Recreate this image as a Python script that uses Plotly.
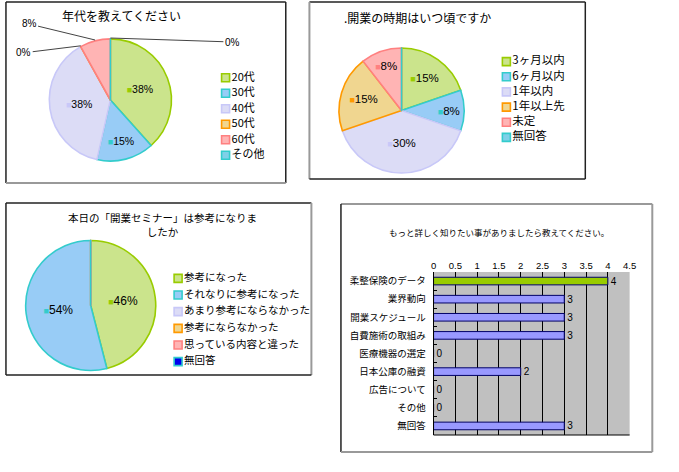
import math
import plotly.graph_objects as go

W, H = 679, 472
JP = "Noto Sans CJK JP, sans-serif"
NUM = "Liberation Sans, Noto Sans CJK JP, sans-serif"

# ---------------- data ----------------
age_labels = ["20代", "30代", "40代", "50代", "60代", "その他"]
age_values = [38, 15, 38, 0, 8, 0]

timing_labels = ["3ヶ月以内", "6ヶ月以内", "1年以内", "1年以上先", "未定", "無回答"]
timing_values = [15, 8, 30, 15, 8, 0]

seminar_labels = ["参考になった", "それなりに参考になった", "あまり参考にならなかった",
                  "参考にならなかった", "思っている内容と違った", "無回答"]
seminar_values = [46, 54, 0, 0, 0, 0]

topic_labels = ["柔整保険のデータ", "業界動向", "開業スケジュール", "自費施術の取組み",
                "医療機器の選定", "日本公庫の融資", "広告について", "その他", "無回答"]
topic_values = [4, 3, 3, 3, 0, 2, 0, 0, 3]
x_tick_values = [0, 0.5, 1, 1.5, 2, 2.5, 3, 3.5, 4, 4.5]

# ---------------- styles ----------------
GREEN_F, GREEN_B = "#cbe48c", "#99cc00"
BLUE_F, BLUE_B = "#98ccf6", "#33cccc"
LAV_F, LAV_B = "#dcdcf6", "#c8c8f8"
ORG_F, ORG_B = "#f0d690", "#ff9900"
PINK_F, PINK_B = "#ffb4b4", "#ff8080"
CYAN_F, CYAN_B = "#7fd0e8", "#33cccc"

age_fills = [GREEN_F, BLUE_F, LAV_F, ORG_F, PINK_F, CYAN_F]
age_borders = [GREEN_B, BLUE_B, LAV_B, ORG_B, PINK_B, CYAN_B]
timing_fills = age_fills
timing_borders = age_borders
seminar_fills = [GREEN_F, BLUE_F, LAV_F, ORG_F, PINK_F, "#0000ee"]
seminar_borders = [GREEN_B, BLUE_B, LAV_B, ORG_B, PINK_B, CYAN_B]


def px(x):
    return x / W


def py(y):
    return 1 - y / H


def pie_text(values, borders):
    return [f"<span style='color:{b};font-size:9px'>■</span>{v}%" for v, b in zip(values, borders)]


def make_pie(labels, values, fills, borders, box, positions, fsize):
    x0, y0, x1, y1 = box
    return go.Pie(
        labels=labels, values=values, sort=False, direction="clockwise", rotation=0,
        marker=dict(colors=fills, line=dict(color=borders, width=1.6)),
        text=pie_text(values, borders), textinfo="text", textposition=positions,
        insidetextorientation="horizontal",
        textfont=dict(family=NUM, size=fsize, color="black"),
        domain=dict(x=[px(x0), px(x1)], y=[py(y1), py(y0)]),
        showlegend=False, hoverinfo="skip",
    )


def legend_trace(labels, fills, borders, xa, ya, fsize):
    return go.Scatter(
        x=[0] * len(labels), y=list(range(len(labels))), mode="markers+text",
        text=labels, textposition="middle right",
        marker=dict(symbol="square", size=8, color=fills, line=dict(color=borders, width=1.6)),
        textfont=dict(family=JP, size=fsize, color="black"),
        xaxis=xa, yaxis=ya, showlegend=False, hoverinfo="skip", cliponaxis=False,
    )


fig = go.Figure()

# pie 1
pie1_box = (47, 38, 171, 162)
pos1 = ["inside" if v > 0 else "none" for v in age_values]
pos1[4] = "none"
fig.add_trace(make_pie(age_labels, age_values, age_fills, age_borders, pie1_box, pos1, 10.5))

# pie 2
pie2_box = (341, 47, 468, 174)
pos2 = ["inside" if v > 0 else "none" for v in timing_values]
fig.add_trace(make_pie(timing_labels, timing_values, timing_fills, timing_borders, pie2_box, pos2, 11.5))

# pie 3
pie3_box = (23, 240, 155, 371)
pos3 = ["inside" if v > 0 else "none" for v in seminar_values]
fig.add_trace(make_pie(seminar_labels, seminar_values, seminar_fills, seminar_borders, pie3_box, pos3, 12))

# legends as marker lists
fig.add_trace(legend_trace(age_labels, age_fills, age_borders, "x2", "y2", 11))
fig.add_trace(legend_trace(timing_labels, timing_fills, timing_borders, "x3", "y3", 11.5))
fig.add_trace(legend_trace(seminar_labels, seminar_fills, seminar_borders, "x4", "y4", 10.5))

# bar chart
bar_colors = ["#99cc00"] + ["#9999ff"] * (len(topic_values) - 1)
fig.add_trace(go.Bar(
    x=topic_values, y=topic_labels, orientation="h", width=0.42,
    marker=dict(color=bar_colors, line=dict(color="#000066", width=1)),
    text=[str(v) for v in topic_values], textposition="outside", constraintext="none",
    textfont=dict(family=NUM, size=10, color="black"), cliponaxis=False,
    xaxis="x", yaxis="y", showlegend=False, hoverinfo="skip",
))

hidden = dict(visible=False, fixedrange=True)
fig.update_layout(
    width=W, height=H, margin=dict(l=0, r=0, t=0, b=0),
    paper_bgcolor="white", plot_bgcolor="rgba(0,0,0,0)",
    font=dict(family=JP, color="black"),
    showlegend=False,
    xaxis=dict(domain=[px(437), px(636)], range=[0, 4.5], side="top", tickvals=x_tick_values,
               showgrid=True, gridcolor="black", gridwidth=1, zeroline=True, zerolinecolor="black",
               zerolinewidth=1, ticks="", tickfont=dict(family=NUM, size=9.5, color="black"),
               fixedrange=True, anchor="y"),
    yaxis=dict(domain=[py(435), py(272)], type="category", autorange="reversed",
               showline=True, linecolor="black", ticks="inside", tickson="boundaries",
               ticklen=3, tickcolor="black", tickfont=dict(family=JP, size=9.5, color="black"),
               ticklabelstandoff=5, showgrid=False, fixedrange=True, anchor="x"),
    xaxis2=dict(domain=[px(220), px(285)], range=[-0.1, 1], anchor="y2", **hidden),
    yaxis2=dict(domain=[py(163), py(70)], range=[5.5, -0.5], anchor="x2", **hidden),
    xaxis3=dict(domain=[px(503), px(590)], range=[-0.1, 1], anchor="y3", **hidden),
    yaxis3=dict(domain=[py(145), py(54)], range=[5.5, -0.5], anchor="x3", **hidden),
    xaxis4=dict(domain=[px(171), px(312)], range=[-0.05, 1], anchor="y4", **hidden),
    yaxis4=dict(domain=[py(370), py(270)], range=[5.5, -0.5], anchor="x4", **hidden),
)

shapes = []
# gray plot background for bar chart
shapes.append(dict(type="rect", xref="x domain", yref="y domain", x0=0, x1=1, y0=0, y1=1,
                   fillcolor="#c0c0c0", line=dict(width=0), layer="below"))
shapes.append(dict(type="line", xref="x domain", yref="y domain", x0=0, x1=1, y0=0, y1=0,
                   line=dict(color="black", width=1)))


def seg(x0, y0, x1, y1, color, width=1.5):
    shapes.append(dict(type="line", xref="paper", yref="paper", x0=px(x0), y0=py(y0),
                       x1=px(x1), y1=py(y1), line=dict(color=color, width=width)))


DARK, GRAY = "#222222", "#999999"
# panel 1
seg(3, 2, 287, 2, DARK); seg(3, 2, 3, 183, DARK); seg(287, 2, 287, 183, DARK); seg(3, 183, 287, 183, GRAY, 2)
# panel 2
seg(311, 2, 591, 2, DARK); seg(311, 2, 311, 179, GRAY, 2); seg(591, 2, 591, 179, DARK); seg(311, 179, 591, 179, DARK)
# panel 3
seg(3, 203, 313, 203, DARK); seg(3, 203, 3, 375, DARK); seg(313, 203, 313, 375, GRAY, 2); seg(3, 375, 313, 375, DARK)
# panel 4
seg(343, 204, 659, 204, GRAY, 2); seg(343, 204, 343, 452, DARK); seg(659, 204, 659, 452, GRAY, 2); seg(343, 452, 659, 452, GRAY, 2)

annotations = []


def title(text, x, y, size):
    annotations.append(dict(text=text, x=px(x), y=py(y), xref="paper", yref="paper",
                            showarrow=False, font=dict(family=JP, size=size, color="black"),
                            xanchor="center", yanchor="middle"))


title("年代を教えてください", 120, 15, 12)
title(".開業の時期はいつ頃ですか", 421, 17, 12)
title("本日の「開業セミナー」は参考になりま<br>したか", 162, 224, 10.5)
title("もっと詳しく知りたい事がありましたら教えてください。", 503, 232, 8.5)

# leader-line labels for small slices of pie 1
cx = (pie1_box[0] + pie1_box[2]) / 2
cy = (pie1_box[1] + pie1_box[3]) / 2
r = (pie1_box[2] - pie1_box[0]) / 2
total = sum(age_values)
offsets = {3: (-57, 7), 4: (-66, -16), 5: (122, 4)}
cum = 0
for i, v in enumerate(age_values):
    mid = cum + v / 2
    cum += v
    if i in offsets:
        ang = math.radians(mid / total * 360)
        ex, ey = cx + r * math.sin(ang), cy - r * math.cos(ang)
        ax, ay = offsets[i]
        annotations.append(dict(text=f"{age_values[i]}%", x=px(ex), y=py(ey), xref="paper", yref="paper",
                                ax=ax, ay=ay, showarrow=True, arrowhead=0, arrowwidth=1,
                                arrowcolor="#444444", font=dict(family=NUM, size=10, color="black")))

fig.update_layout(shapes=shapes, annotations=annotations)
fig.write_html("out.html", config={"displayModeBar": False},
               post_script="document.body.style.margin='0';")
